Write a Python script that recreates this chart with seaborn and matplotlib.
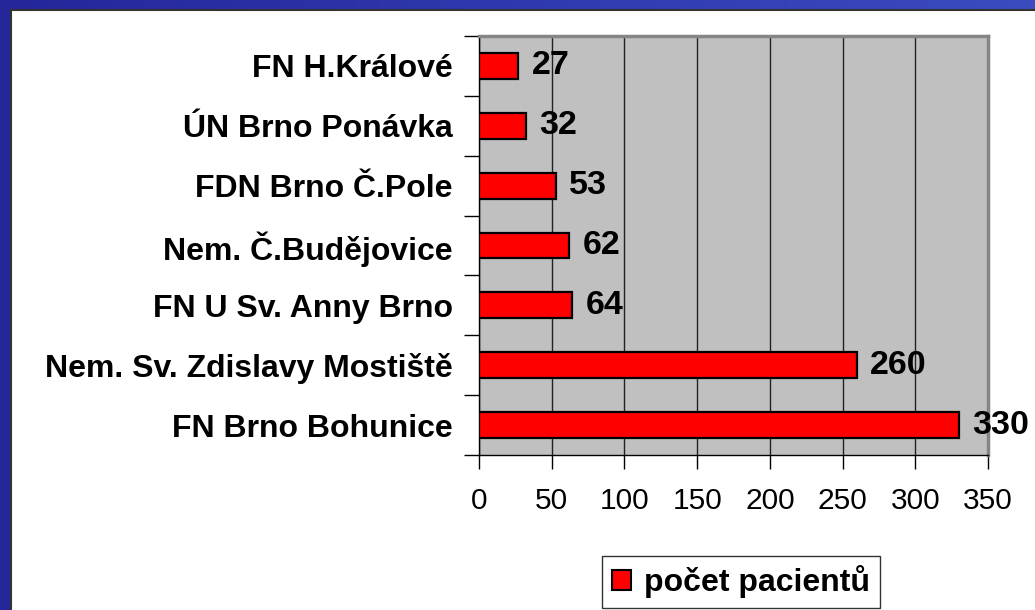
import numpy as np
import matplotlib.pyplot as plt
import seaborn as sns
from matplotlib.patches import Rectangle, Patch

# hospitals, top to bottom as in the chart
hospitals = ["FN H.Králové", "ÚN Brno Ponávka", "FDN Brno Č.Pole", "Nem. Č.Budějovice",
             "FN U Sv. Anny Brno", "Nem. Sv. Zdislavy Mostiště", "FN Brno Bohunice"]
patients = [27, 32, 53, 62, 64, 260, 330]
x_ticks = [0, 50, 100, 150, 200, 250, 300, 350]
legend_label = "počet pacientů"

sns.set_style("white")
plt.rcParams['font.family'] = ['Liberation Sans', 'DejaVu Sans']
plt.rcParams['text.color'] = 'black'
plt.rcParams['xtick.color'] = 'black'
plt.rcParams['ytick.color'] = 'black'

fig = plt.figure(figsize=(10.35, 6.1), dpi=100)

# blue slide background + white content panel
bg = fig.add_axes([0, 0, 1, 1], zorder=-10)
grad = np.linspace(0, 1, 256).reshape(1, -1)
bg.imshow(grad, aspect='auto', cmap=sns.blend_palette(["#24269a", "#3a4cc0"], as_cmap=True),
          extent=[0, 1, 0, 1])
bg.add_patch(Rectangle((11 / 1035, -0.01), 1.1, 1 - 10 / 610 + 0.01, transform=bg.transAxes,
                       facecolor="white", edgecolor="#333333", linewidth=1.5))
bg.set_xlim(0, 1)
bg.set_ylim(0, 1)
bg.axis('off')

ax = fig.add_axes([479 / 1035, 1 - 455 / 610, (988 - 479) / 1035, (455 - 36) / 610])
sns.barplot(x=patients, y=hospitals, orient='h', color='#ff0000', saturation=1,
            edgecolor='black', linewidth=1.6, width=0.43, ax=ax, zorder=3)

ax.set_facecolor('#c0c0c0')
ax.set_xlim(0, 350)
ax.set_ylim(6.5, -0.5)
ax.set_xticks(x_ticks)
ax.set_xticklabels([str(t) for t in x_ticks], fontsize=21.5)
ax.grid(axis='x', color='#222222', linewidth=1, zorder=0)
ax.set_axisbelow(True)
ax.set_xlabel('')
ax.set_ylabel('')

# y tick labels, ticks at category borders
ax.set_yticks(range(len(hospitals)))
ax.set_yticklabels(hospitals, fontsize=23, fontweight='bold')
ax.set_yticks(np.arange(-0.5, len(hospitals)), minor=True)
ax.tick_params(axis='y', which='major', length=0, pad=19)
ax.tick_params(axis='y', which='minor', length=11, width=1, color='black', left=True)
ax.tick_params(axis='x', length=10, width=1, color='black', bottom=True, pad=13)

for side in ['left', 'bottom']:
    ax.spines[side].set_color('black')
    ax.spines[side].set_linewidth(1)
for side in ['top', 'right']:
    ax.spines[side].set_color('#858585')
    ax.spines[side].set_linewidth(2.5)

for i, v in enumerate(patients):
    ax.annotate(str(v), xy=(v, i), xytext=(9.5, 0), textcoords='offset points',
                ha='left', va='center', fontsize=24.5, fontweight='bold', clip_on=False, zorder=5)

handle = Patch(facecolor='#ff0000', edgecolor='black', linewidth=1.5)
leg = fig.legend([handle], [legend_label], loc='center', bbox_to_anchor=(741 / 1035, 1 - 582 / 610),
                 prop={'size': 23, 'weight': 'bold'}, frameon=True, fancybox=False,
                 edgecolor='black', handlelength=0.6, handleheight=0.6, handletextpad=0.4,
                 borderpad=0.3)
leg.get_frame().set_linewidth(1)

fig.savefig('out.png', dpi=100)
